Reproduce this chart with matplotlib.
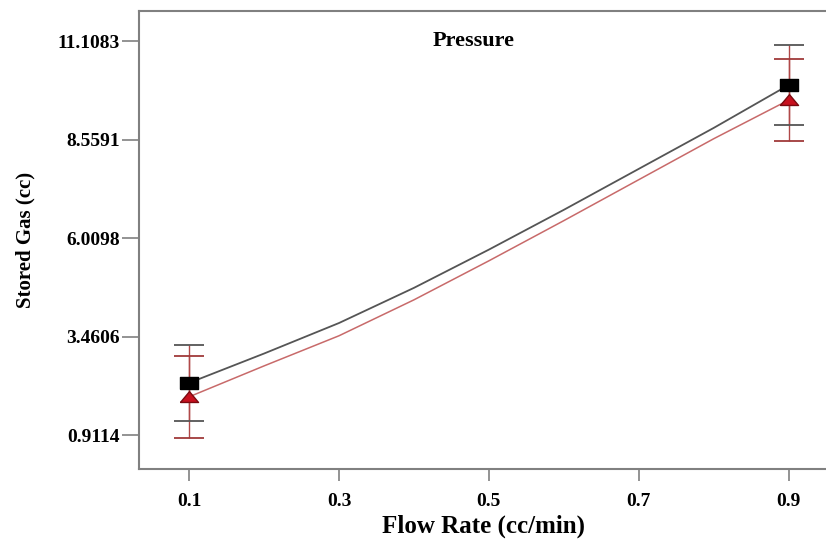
import matplotlib.pyplot as plt

###############################################################################
# Values.
flow_rate = [0.1, 0.2, 0.3, 0.4, 0.5, 0.6, 0.7, 0.8, 0.9]
gas_black = [2.26, 3.02, 3.81, 4.72, 5.71, 6.74, 7.80, 8.86, 9.97]
gas_red = [1.90, 2.70, 3.48, 4.41, 5.42, 6.46, 7.52, 8.58, 9.58]

err_x = [0.1, 0.9]
err_black_y = [2.26, 9.97]
err_black = [0.99, 1.03]
err_red_y = [1.90, 9.58]
err_red = [1.06, 1.05]

xticks = [0.1, 0.3, 0.5, 0.7, 0.9]
yticks = [0.9114, 3.4606, 6.0098, 8.5591, 11.1083]

plt.rcParams['font.family'] = 'Liberation Serif'
plt.rcParams['font.weight'] = 'bold'

fig = plt.figure(figsize=(8.26, 5.42), dpi=100)
ax = fig.add_axes([139 / 826, 73 / 542, 689 / 826, 458 / 542])

# flattened marker shapes, like the original
rect = [(-1, -0.62), (1, -0.62), (1, 0.62), (-1, 0.62), (-1, -0.62)]
tri = [(-1, -0.55), (1, -0.55), (0, 0.65), (-1, -0.55)]

# lines
ax.plot(flow_rate, gas_black, color='#555555', lw=1.3, zorder=2)
ax.plot(flow_rate, gas_red, color='#c86a6a', lw=1.1, zorder=2)

# error bars
ax.errorbar(err_x, err_black_y, yerr=err_black, fmt='none', ecolor='#b04848',
            elinewidth=1.0, capsize=0, zorder=1)
ax.errorbar(err_x, err_red_y, yerr=err_red, fmt='none', ecolor='#b04848',
            elinewidth=1.0, capsize=0, zorder=1)
for x, y, e in zip(err_x, err_black_y, err_black):
    ax.plot([x, x], [y - e, y + e], ls='none', marker='_', ms=21, mew=1.3,
            color='#555555', zorder=3)
for x, y, e in zip(err_x, err_red_y, err_red):
    ax.plot([x, x], [y - e, y + e], ls='none', marker='_', ms=21, mew=1.3,
            color='#a03a3a', zorder=3)

# markers at the end points
ax.plot(err_x, err_black_y, ls='none', marker=rect, ms=13, color='black',
        zorder=4)
ax.plot(err_x, err_red_y, ls='none', marker=tri, ms=13, color='#c8101e',
        mec='#7a0a10', zorder=4)

ax.set_xlim(0.0331, 0.9524)
ax.set_ylim(0.0315, 11.885)
ax.set_xticks(xticks)
ax.set_xticklabels([str(t) for t in xticks])
ax.set_yticks(yticks)
ax.set_yticklabels([f'{t:.4f}' for t in yticks])

for s in ax.spines.values():
    s.set_color('#808080')
    s.set_linewidth(1.5)
ax.tick_params(direction='out', width=1.2, color='#808080', labelsize=14)
ax.tick_params(axis='x', length=8.5, pad=9)
ax.tick_params(axis='y', length=12, pad=2)

ax.set_xlabel('Flow Rate (cc/min)', fontsize=18, fontweight='bold', labelpad=3)
ax.set_ylabel('Stored Gas (cc)', fontsize=15, fontweight='bold', labelpad=16)
ax.text(0.48, 11.1, 'Pressure', ha='center', va='center', fontsize=16,
        fontweight='bold')

fig.savefig('out.png', dpi=100)
